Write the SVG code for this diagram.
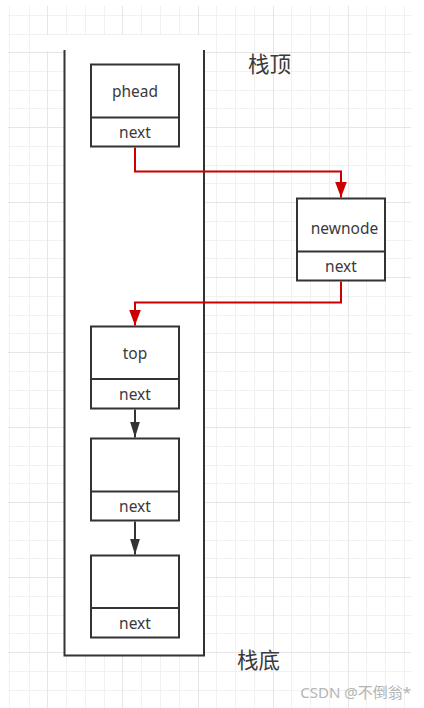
<svg xmlns="http://www.w3.org/2000/svg" width="424" height="708" viewBox="0 0 424 708">
  <style>
    .minor { stroke: #f1f1f1; stroke-width: 1; fill: none; }
    .major { stroke: #e6e6e6; stroke-width: 1; fill: none; }
    .box { fill: #ffffff; stroke: #333333; stroke-width: 2; }
    .div { stroke: #333333; stroke-width: 2; }
    .lbl { font-family: "Noto Sans", "Liberation Sans", sans-serif; font-size: 15.5px; fill: #3a3a3a; text-anchor: middle; }
    .cjk { font-family: "Noto Sans CJK SC", "Noto Sans", sans-serif; font-size: 21.5px; fill: #3a3a3a; }
    .red { stroke: #cc0000; stroke-width: 2; fill: none; }
    .blk { stroke: #333333; stroke-width: 2; fill: none; }
  </style>
  <defs>
    <marker id="arrRed" viewBox="0 0 16 12" refX="16" refY="6" markerWidth="16" markerHeight="12" markerUnits="userSpaceOnUse" orient="auto">
      <path d="M0 0 L16 6 L0 12 Z" fill="#cc0000"/>
    </marker>
    <marker id="arrBlk" viewBox="0 0 16 10" refX="16" refY="5" markerWidth="16" markerHeight="10" markerUnits="userSpaceOnUse" orient="auto">
      <path d="M0 0 L16 5 L0 10 Z" fill="#333333"/>
    </marker>
  </defs>
  <rect x="0" y="0" width="424" height="708" fill="#ffffff"/>
  <g id="grid">
    <path class="minor" d="M9.5 6V708M29.5 6V708M66.5 6V708M85.5 6V708M104.5 6V708M141.5 6V708M160.5 6V708M179.5 6V708M216.5 6V708M235.5 6V708M254.5 6V708M291.5 6V708M310.5 6V708M329.5 6V708M366.5 6V708M385.5 6V708M404.5 6V708
      M8 15.5H411M8 34.5H411M8 71.5H411M8 90.5H411M8 108.5H411M8 146.5H411M8 165.5H411M8 183.5H411M8 221.5H411M8 240.5H411M8 258.5H411M8 296.5H411M8 315.5H411M8 333.5H411M8 371.5H411M8 390.5H411M8 408.5H411M8 446.5H411M8 465.5H411M8 483.5H411M8 521.5H411M8 540.5H411M8 558.5H411M8 596.5H411M8 615.5H411M8 633.5H411M8 671.5H411M8 690.5H411"/>
    <path class="major" d="M47.5 6V708M122.5 6V708M198.5 6V708M273.5 6V708M348.5 6V708
      M8 52.5H411M8 127.5H411M8 202.5H411M8 277.5H411M8 352.5H411M8 427.5H411M8 502.5H411M8 577.5H411M8 652.5H411"/>
    <rect x="46" y="35" width="158" height="16" fill="#ffffff"/>
  </g>
  <g id="stack">
    <rect x="64" y="50" width="140" height="606" fill="#ffffff"/>
    <path d="M64.5 50V655.5H204V50" fill="none" stroke="#333333" stroke-width="2"/>
  </g>
  <g id="label-top">
    <text class="cjk" x="248" y="71.5">栈顶</text>
  </g>
  <g id="label-bottom">
    <text class="cjk" x="237" y="668">栈底</text>
  </g>
  <g id="node-phead">
    <rect class="box" x="91" y="64.5" width="88" height="82"/>
    <line class="div" x1="91" y1="117.5" x2="179" y2="117.5"/>
    <text class="lbl" x="135" y="97">phead</text>
    <text class="lbl" x="135" y="138">next</text>
  </g>
  <g id="node-newnode">
    <rect class="box" x="297" y="198.5" width="88" height="82"/>
    <line class="div" x1="297" y1="251.5" x2="385" y2="251.5"/>
    <text class="lbl" x="344.5" y="234">newnode</text>
    <text class="lbl" x="341" y="272">next</text>
  </g>
  <g id="node-top">
    <rect class="box" x="91" y="326.5" width="88" height="82"/>
    <line class="div" x1="91" y1="379" x2="179" y2="379"/>
    <text class="lbl" x="135" y="358.5">top</text>
    <text class="lbl" x="135" y="399.5">next</text>
  </g>
  <g id="node-3">
    <rect class="box" x="91" y="438.5" width="88" height="82"/>
    <line class="div" x1="91" y1="491.5" x2="179" y2="491.5"/>
    <text class="lbl" x="135" y="512">next</text>
  </g>
  <g id="node-4">
    <rect class="box" x="91" y="555.5" width="88" height="82"/>
    <line class="div" x1="91" y1="608" x2="179" y2="608"/>
    <text class="lbl" x="135" y="628.5">next</text>
  </g>
  <g id="connectors">
    <path class="red" d="M135 147.5V171.5H341V197.5" marker-end="url(#arrRed)"/>
    <path class="red" d="M341 281.5V302.5H135V325.5" marker-end="url(#arrRed)"/>
    <path class="blk" d="M135 409.5V437.5" marker-end="url(#arrBlk)"/>
    <path class="blk" d="M135 521.5V554.5" marker-end="url(#arrBlk)"/>
  </g>
  <g id="watermark">
    <text x="411" y="697.5" font-family="Noto Sans, Noto Sans CJK SC, sans-serif" font-size="15px" fill="#b4b4b4" text-anchor="end">CSDN @不倒翁*</text>
  </g>
</svg>
